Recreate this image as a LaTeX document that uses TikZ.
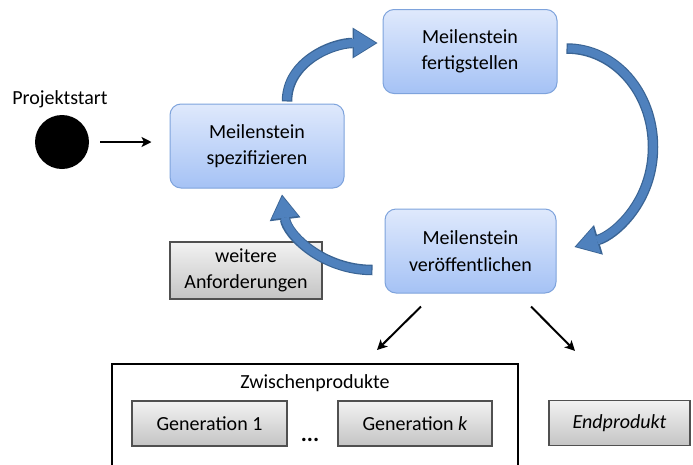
\documentclass[tikz,border=0pt]{standalone}
\usepackage{fontspec}
\setmainfont{Carlito}
\usetikzlibrary{arrows.meta,positioning,calc}

\definecolor{boxoben}{HTML}{DFE9FC}
\definecolor{boxunten}{HTML}{A5C2F5}
\definecolor{boxrand}{HTML}{7EA3DC}
\definecolor{grauoben}{HTML}{F2F2F2}
\definecolor{grauunten}{HTML}{C4C4C4}
\definecolor{graurand}{HTML}{505050}
\definecolor{pfeilblau}{HTML}{4F81BD}
\definecolor{pfeilrand}{HTML}{3A6494}

\begin{document}
\begin{tikzpicture}[x=1pt, y=-1pt, font=\fontsize{20}{26.5}\selectfont,
  meilenstein/.style={draw=boxrand, line width=1pt, rounded corners=11pt,
    top color=boxoben, bottom color=boxunten, minimum width=174pt,
    minimum height=84pt, align=center, inner sep=0pt},
  ergebnis/.style={draw=graurand, line width=1.2pt, top color=grauoben,
    bottom color=grauunten, minimum height=45pt, align=center, inner sep=0pt},
  pfeil/.style={line width=2pt, -{Stealth[length=10pt,width=10pt,inset=2.5pt]}},
  blockrand/.style={pfeilrand, line width=10.5pt,
    -{Triangle[width=31pt,length=25pt,line width=0pt]}},
  blockfuell/.style={pfeilblau, line width=8pt, shorten <=1.2pt, shorten >=1.8pt,
    -{Triangle[width=27pt,length=21.5pt,line width=0pt]}}]
  \useasboundingbox (0,0) rectangle (693,464);
  \clip (0,0) rectangle (693,464);
  % ---- start ----
  \node[circle, fill=black, minimum size=54pt, inner sep=0pt] (start) at (62,142) {};
  \node (titel) at (60,99) {Projektstart};
  % ---- milestones ----
  \node[meilenstein] (spez) at (257,146) {Meilenstein\\spezifizieren};
  \node[meilenstein] (fertig) at (470,51.5) {Meilenstein\\fertigstellen};
  \node[meilenstein, minimum width=171pt] (veroeff) at (470.5,251) {Meilenstein\\ver\"offentlichen};
  \node[ergebnis, minimum width=152pt, minimum height=57pt] (weitere) at (246,270.5) {weitere\\Anforderungen};
  % ---- products ----
  \node[draw, line width=2pt, minimum width=406pt, minimum height=112pt] (zwischen) at (315,420) {};
  \node (zwtitel) at (315,383) {Zwischenprodukte};
  \node[ergebnis, minimum width=155pt] (gen1) at (209.5,423.5) {Generation 1};
  \node[ergebnis, minimum width=154pt] (genk) at (415,423.5) {Generation \textit{k}};
  \node[anchor=base] (punkte) at (310,441) {\fontsize{23}{23}\selectfont\textbf{...}};
  \node[ergebnis, minimum width=141pt] (end) at (619.5,423) {\textit{Endprodukt}};
  \coordinate (bogen) at (653,147);
  % ---- cycle arrows ----
  \foreach \lage in {blockrand,blockfuell} {
    \draw[\lage] ([xshift=30pt,yshift=2pt]spez.north)
      .. controls +(0,-40) and +(-45,0) .. ([xshift=-5pt,yshift=8.5pt]fertig.west);
    \draw[\lage] ([xshift=9pt,yshift=3pt]fertig.east)
      .. controls +(48,0) and +(0,-55) .. (bogen)
      .. controls +(0,55) and +(40,-12) .. ([xshift=18pt,yshift=4pt]veroeff.east);
    \draw[\lage] ([xshift=-12pt,yshift=-19pt]veroeff.west)
      .. controls +(-50,0) and +(5,40) .. ([xshift=25pt,yshift=-6pt]spez.south);
  }
  % ---- plain arrows ----
  \draw[pfeil, shorten <=11pt, shorten >=18pt] (start.east) -- (start.east -| spez.west);
  \draw[pfeil] ([xshift=-49.5pt,yshift=-13pt]veroeff.south) -- ([xshift=62pt,yshift=13pt]zwischen.north);
  \draw[pfeil] ([xshift=60.5pt,yshift=-13pt]veroeff.south) -- ([xshift=-44.5pt,yshift=49pt]end.north);
\end{tikzpicture}
\end{document}
